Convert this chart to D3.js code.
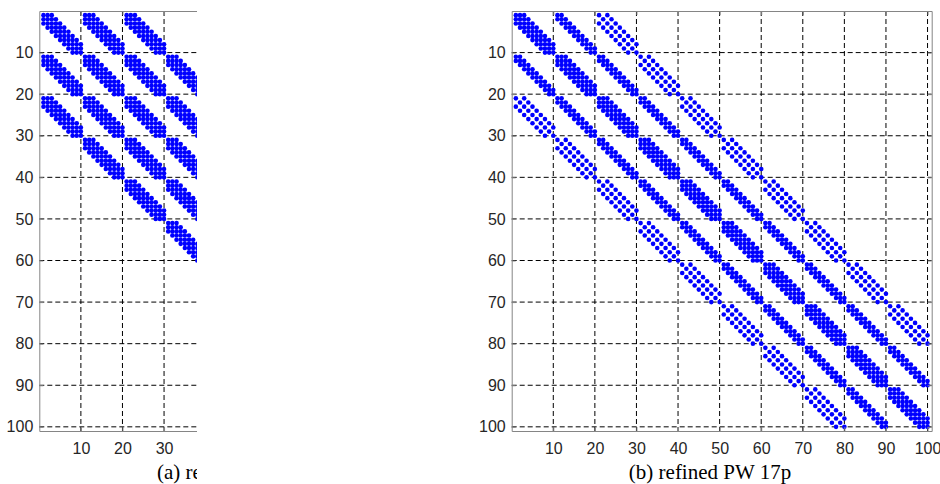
<!DOCTYPE html>
<html>
<head>
<meta charset="utf-8">
<script src="https://cdn.jsdelivr.net/npm/d3@7"></script>
<style>
  body { margin: 0; background: #fff; }
  .tick text { font-family: "Liberation Sans", Arial, sans-serif; }
</style>
</head>
<body>
<div id="spy"></div>
<script>

// Build the two spy plots in this file

// matrix size and block layout (10 x 10 blocks of 10 x 10)
const matrixSize = 100;
const blockSize = 10;
const blockCount = 10;

// block diagonals that hold nonzeros (block row - block col)
const blockOffsets = [-2, -1, 0, 1, 2];

// diagonals inside one block, by distance of the block from the main diagonal
const innerDiagsA = [[-2, -1, 0, 1, 2], [-2, -1, 0, 1, 2], [-2, -1, 0, 1, 2]];
const innerDiagsB = [[-2, -1, 0, 1, 2], [-1, 0, 1], [-2, 0, 2]];

// tick labels
const xTicks = [10, 20, 30, 40, 50, 60, 70, 80, 90, 100];
const yTicks = [10, 20, 30, 40, 50, 60, 70, 80, 90, 100];

// captions
const captions = ["(a) regular PW 17p", "(b) refined PW 17p"];

// Set dimensions and margins for plots
const width = 940;
const height = 484;
const plotSize = 420;
const plotTop = 11;
const panelLeft = [39.3, 511.7];

const svg = d3
  .select("#spy")
  .append("svg")
  .attr("width", width)
  .attr("height", height)
  .attr("viewBox", [0, 0, width, height]);

// left panel is cut off in the figure
svg.append("clipPath")
    .attr("id", "cutA")
  .append("rect")
    .attr("x", 0)
    .attr("y", 0)
    .attr("width", 197)
    .attr("height", height);

// This makes the list of nonzero entries (row, col) of one matrix
function nonzeros(innerDiags) {
  let pts = [];
  for (let I = 0; I < blockCount; I++) {
    blockOffsets.forEach(off => {
      let J = I - off;
      if (J < 0 || J >= blockCount) return;
      let diags = innerDiags[Math.abs(off)];
      for (let i = 0; i < blockSize; i++) {
        diags.forEach(d => {
          let j = i - d;
          if (j < 0 || j >= blockSize) return;
          pts.push({ row: I * blockSize + i + 1, col: J * blockSize + j + 1 });
        });
      }
    });
  }
  return pts;
}

// This draws one panel
function drawPanel(index, data) {
  const x0 = panelLeft[index];
  const g = svg.append("g");
  if (index === 0) g.attr("clip-path", "url(#cutA)");

  let xScale = d3.scaleLinear()
              .domain([0, matrixSize + 1])
              .range([x0, x0 + plotSize]);
  let yScale = d3.scaleLinear()
              .domain([0, matrixSize + 1])
              .range([plotTop, plotTop + plotSize]);

  // dashed grid
  g.selectAll(".vgrid")
    .data(xTicks)
    .enter()
    .append("line")
      .attr("x1", d => xScale(d))
      .attr("x2", d => xScale(d))
      .attr("y1", plotTop)
      .attr("y2", plotTop + plotSize)
      .attr("stroke", "#000")
      .attr("stroke-width", 1)
      .attr("stroke-dasharray", "5,3");
  g.selectAll(".hgrid")
    .data(yTicks)
    .enter()
    .append("line")
      .attr("x1", x0)
      .attr("x2", x0 + plotSize)
      .attr("y1", d => yScale(d))
      .attr("y2", d => yScale(d))
      .attr("stroke", "#000")
      .attr("stroke-width", 1)
      .attr("stroke-dasharray", "5,3");

  // nonzero markers
  g.selectAll(".dot")
    .data(data)
    .enter()
    .append("circle")
      .attr("cx", d => xScale(d.col))
      .attr("cy", d => yScale(d.row))
      .attr("r", 2.3)
      .attr("fill", "#0000ff");

  // axes: labelled left / bottom, plain ticks top / right
  const axes = [
    [d3.axisBottom(xScale).tickValues(xTicks).tickPadding(12), `translate(0,${plotTop + plotSize})`],
    [d3.axisLeft(yScale).tickValues(yTicks).tickPadding(6), `translate(${x0},0)`],
    [d3.axisTop(xScale).tickValues(xTicks).tickFormat(""), `translate(0,${plotTop})`],
    [d3.axisRight(yScale).tickValues(yTicks).tickFormat(""), `translate(${x0 + plotSize},0)`]
  ];
  axes.forEach(([ax, tr]) => {
    let a = g.append("g")
      .attr("transform", tr)
      .call(ax.tickSizeInner(-4).tickSizeOuter(0));
    a.select(".domain").attr("stroke", "#858585");
    a.selectAll(".tick line").attr("stroke", "#858585");
    a.selectAll(".tick text")
      .attr("fill", "#262626")
      .attr("font-size", "16px");
  });

  // caption
  g.append("text")
    .attr("x", index === 0 ? 157 : 710)
    .attr("y", 479)
    .attr("text-anchor", index === 0 ? "start" : "middle")
    .attr("font-family", "'Liberation Serif', 'Times New Roman', serif")
    .attr("font-size", "21px")
    .attr("fill", "#000")
    .text(captions[index]);
}

drawPanel(0, nonzeros(innerDiagsA));
drawPanel(1, nonzeros(innerDiagsB));

</script>
</body>
</html>
